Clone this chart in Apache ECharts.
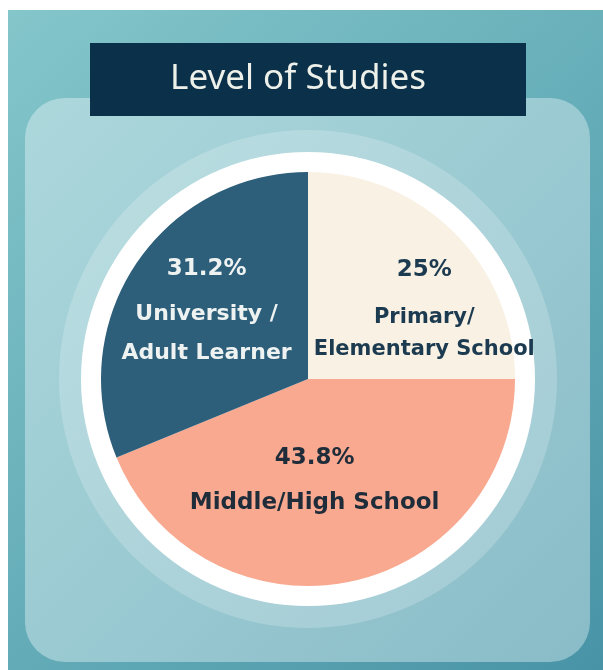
<!DOCTYPE html>
<html>
<head>
<meta charset="utf-8">
<script src="https://cdn.jsdelivr.net/npm/echarts@6/dist/echarts.min.js"></script>
<style>
  html, body { margin: 0; padding: 0; background: #ffffff; }
  #chart { width: 603px; height: 670px; }
</style>
</head>
<body>
<div id="chart"></div>
<script>
// ---- data ----
const titleText = 'Level of Studies';
const categories = ['Primary/\nElementary School', 'Middle/High School', 'University /\nAdult Learner'];
const values = [25, 43.8, 31.2];

// ---- styles ----
const sliceColors = ['#f9f2e4', '#f8a98f', '#2d5f7b'];
const labelColors = ['#1c3a50', '#1f2c3a', '#eef3f1'];
const pctLineHeights = [63, 45, 53];
const nameLineHeights = [32, 45, 39];
const nameFontSizes = [21, 23, 22];
const labelShift = [[41, -2], [-14, -3], [-13, -12]];

const chart = echarts.init(document.getElementById('chart'), null, { renderer: 'canvas' });

const pieData = categories.map((name, i) => ({
  name: name,
  value: values[i],
  itemStyle: { color: sliceColors[i] },
  label: {
    color: labelColors[i],
    rich: {
      p: { fontFamily: 'DejaVu Sans', fontWeight: 'bold', fontSize: 23, color: labelColors[i], lineHeight: pctLineHeights[i], align: 'center' },
      n: { fontFamily: 'DejaVu Sans', fontWeight: 'bold', fontSize: nameFontSizes[i], color: labelColors[i], lineHeight: nameLineHeights[i], align: 'center' }
    }
  }
}));

const center = [308, 379];

const option = {
  backgroundColor: '#ffffff',
  animation: false,
  graphic: [
    {
      type: 'rect', z: -10, silent: true,
      shape: { x: 8, y: 10, width: 595, height: 660 },
      style: { fill: { type: 'linear', x: 0, y: 0, x2: 1, y2: 1, colorStops: [
        { offset: 0, color: '#84c6ca' }, { offset: 0.5, color: '#66aeb9' }, { offset: 1, color: '#4893a6' } ] } }
    },
    {
      type: 'rect', z: -9, silent: true,
      shape: { x: 25, y: 98, width: 565, height: 564, r: 40 },
      style: { fill: { type: 'linear', x: 0, y: 0, x2: 1, y2: 1, colorStops: [
        { offset: 0, color: '#acd8dc' }, { offset: 1, color: '#89bcc8' } ] } }
    },
    {
      type: 'rect', z: 100, silent: true,
      shape: { x: 90, y: 43, width: 436, height: 73 },
      style: { fill: '#0b3049' }
    },
    {
      type: 'text', z: 101, silent: true,
      x: 298, y: 79,
      style: { text: titleText, fill: '#eef0ea', font: '35px "Noto Sans"', textAlign: 'center', textVerticalAlign: 'middle' }
    }
  ],
  series: [
    {
      type: 'pie', silent: true, z: 1,
      center: center, radius: 249,
      label: { show: false }, labelLine: { show: false },
      itemStyle: { color: 'rgba(255,255,255,0.2)', borderWidth: 0 },
      emphasis: { disabled: true },
      data: [{ value: 1, name: 'halo' }]
    },
    {
      type: 'pie', silent: true, z: 1,
      center: center, radius: 227,
      label: { show: false }, labelLine: { show: false },
      itemStyle: { color: '#ffffff', borderWidth: 0 },
      emphasis: { disabled: true },
      data: [{ value: 1, name: 'rim' }]
    },
    {
      type: 'pie', z: 2,
      center: center, radius: 207,
      startAngle: 90, clockwise: true,
      itemStyle: { borderWidth: 0 },
      emphasis: { disabled: true },
      label: {
        show: true,
        position: 'inside',
        formatter: function (p) {
          const lines = p.name.split('\n').map(s => '{n|' + s + '}');
          return '{p|' + p.value + '%}\n' + lines.join('\n');
        }
      },
      labelLine: { show: false },
      labelLayout: function (params) {
        const s = labelShift[params.dataIndex];
        return { dx: s[0], dy: s[1] };
      },
      data: pieData
    }
  ]
};

chart.setOption(option);
</script>
</body>
</html>
